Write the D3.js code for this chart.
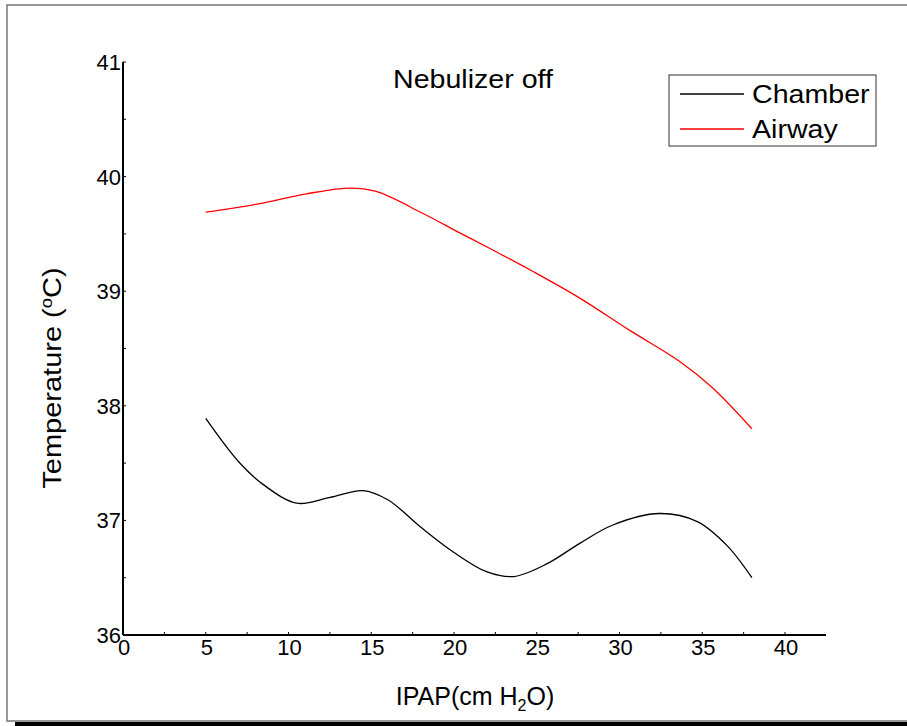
<!DOCTYPE html>
<html><head><meta charset="utf-8">
<script src="https://cdn.jsdelivr.net/npm/d3@7"></script>
<style>body{margin:0;background:#fff}svg{display:block}text{font-family:"Liberation Sans",Arial,sans-serif;fill:#000}</style>
</head><body>
<svg id="c" width="907" height="726"></svg>
<script>
const title = "Nebulizer off";
const seriesNames = ["Chamber", "Airway"];
const seriesColors = ["#000000", "#ff0000"];
const xTicks = [0, 5, 10, 15, 20, 25, 30, 35, 40];
const yTicks = [36, 37, 38, 39, 40, 41];
const chamberX = [5, 7, 8.5, 10.5, 12.5, 14.5, 16, 18, 20, 22, 23.6, 25.6, 27.6, 29.6, 32.4, 34.7, 36.5, 38];
const chamberY = [37.89, 37.51, 37.31, 37.15, 37.20, 37.26, 37.18, 36.94, 36.72, 36.55, 36.51, 36.62, 36.80, 36.96, 37.06, 36.99, 36.78, 36.50];
const airwayX = [5, 8.1, 11.1, 13.7, 15.3, 18.1, 20.2, 22.2, 24.8, 27.6, 30.6, 33.7, 35.6, 38];
const airwayY = [39.69, 39.76, 39.85, 39.90, 39.87, 39.68, 39.52, 39.37, 39.17, 38.94, 38.66, 38.38, 38.16, 37.80];

const svg = d3.select("#c");
// frame
svg.append("rect").attr("x",15).attr("y",722).attr("width",900).attr("height",5).attr("fill","#000");
svg.append("rect").attr("x",7).attr("y",5).attr("width",920).attr("height",716).attr("fill","#fff").attr("stroke","#777").attr("stroke-width",1.5);

const x0 = 123, y0 = 635;
const x = d3.scaleLinear().domain([0, 40]).range([x0, 785]);
const y = d3.scaleLinear().domain([36, 41]).range([y0, 62]);

// axes lines
svg.append("line").attr("x1",x0).attr("x2",x0).attr("y1",y(41)).attr("y2",y0).attr("stroke","#000").attr("stroke-width",2);
svg.append("line").attr("x1",x0).attr("x2",826).attr("y1",y0).attr("y2",y0).attr("stroke","#000").attr("stroke-width",2);

// minor/major ticks (inward)
const xAll = d3.range(0, 42.5, 2.5);
svg.selectAll(".xt").data(xAll).join("line").attr("x1",d=>x(d)).attr("x2",d=>x(d)).attr("y1",y0).attr("y2",y0-3).attr("stroke","#000").attr("stroke-width",1);
const yAll = d3.range(36, 41.5, 0.5);
svg.selectAll(".yt").data(yAll).join("line").attr("x1",x0).attr("x2",x0+3).attr("y1",d=>y(d)).attr("y2",d=>y(d)).attr("stroke","#000").attr("stroke-width",1);

// tick labels
svg.selectAll(".xl").data(xTicks).join("text").attr("x",d=>x(d)+1).attr("y",655).attr("text-anchor","middle").attr("font-size",22).text(d=>d);
svg.selectAll(".yl").data(yTicks).join("text").attr("x",x0-2).attr("y",d=>y(d)+8).attr("text-anchor","end").attr("font-size",22).text(d=>d);

// title
svg.append("text").attr("x",393).attr("y",88).attr("font-size",25)
  .attr("textLength",160).attr("lengthAdjust","spacingAndGlyphs").text(title);

// axis titles
const xt = svg.append("text").attr("x",475).attr("y",705).attr("text-anchor","middle").attr("font-size",25);
xt.append("tspan").text("IPAP(cm H");
xt.append("tspan").attr("font-size",16).attr("dy",6).text("2");
xt.append("tspan").attr("dy",-6).text("O)");
const yt = svg.append("text").attr("transform","translate(61,378) rotate(-90) scale(1.16,1)").attr("text-anchor","middle").attr("font-size",25);
yt.append("tspan").text("Temperature (");
yt.append("tspan").attr("font-size",16).attr("dy",-9).text("o");
yt.append("tspan").attr("dy",9).text("C)");

// lines
const line = d3.line().x(d=>x(d[0])).y(d=>y(d[1])).curve(d3.curveCatmullRom.alpha(0.5));
const series = [d3.zip(chamberX, chamberY), d3.zip(airwayX, airwayY)];
series.forEach((s,i)=>{
  svg.append("path").datum(s).attr("d",line).attr("fill","none").attr("stroke",seriesColors[i]).attr("stroke-width",1.3);
});

// legend
svg.append("rect").attr("x",669).attr("y",75).attr("width",207).attr("height",71).attr("fill","none").attr("stroke","#333").attr("stroke-width",1);
seriesNames.forEach((n,i)=>{
  const ly = 94 + i*35;
  svg.append("line").attr("x1",680).attr("x2",744).attr("y1",ly).attr("y2",ly).attr("stroke",seriesColors[i]).attr("stroke-width",1.3);
  const t = svg.append("text").attr("x",752).attr("y",ly+9).attr("font-size",26).text(n);
  t.attr("transform",`translate(752,0) scale(1.1,1) translate(-752,0)`);
});
</script>
</body></html>
